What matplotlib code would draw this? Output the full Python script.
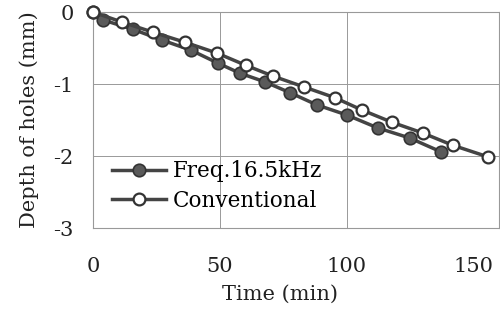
import matplotlib
matplotlib.use("Agg")
import matplotlib.pyplot as plt

# Freq.16.5kHz (filled markers)
freq_time = [0, 3.9, 15.7, 27.2, 38.6, 49.2, 57.9, 67.7, 77.6, 88.2, 100, 112.2, 124.8, 137]
freq_depth = [0, -0.11, -0.24, -0.39, -0.53, -0.71, -0.85, -0.97, -1.12, -1.29, -1.43, -1.61, -1.75, -1.94]

# Conventional (open markers)
conv_time = [0, 11.4, 23.6, 36.2, 48.8, 60.2, 70.9, 83.1, 95.3, 105.9, 117.7, 129.9, 141.7, 155.5]
conv_depth = [0, -0.14, -0.28, -0.42, -0.57, -0.74, -0.89, -1.04, -1.19, -1.36, -1.53, -1.68, -1.85, -2.01]

x_ticks = [0, 50, 100, 150]
y_ticks = [0, -1, -2, -3]
y_labels = ['0', '-1', '-2', '-3']

plt.rcParams['font.family'] = ['DejaVu Serif']

fig = plt.figure(figsize=(5, 3.2), dpi=100)
ax = fig.add_axes([0.186, 0.2875, 0.812, 0.675])

for v in [50, 100]:
    ax.axvline(v, color='#999999', lw=0.7, zorder=0)
for v in [-1, -2]:
    ax.axhline(v, color='#999999', lw=0.7, zorder=0)

ax.plot(freq_time, freq_depth, '-o', color='#444444', lw=2.5,
        markersize=9, markerfacecolor='#5a5a5a', markeredgecolor='#333333',
        markeredgewidth=1.2, label='Freq.16.5kHz', clip_on=False, zorder=3)
ax.plot(conv_time, conv_depth, '-o', color='#444444', lw=2.5,
        markersize=8.5, markerfacecolor='white', markeredgecolor='#333333',
        markeredgewidth=1.6, label='Conventional', clip_on=False, zorder=4)

ax.set_xlim(0, 160)
ax.set_ylim(-3, 0)
ax.set_xticks(x_ticks)
ax.set_yticks(y_ticks)
ax.set_yticklabels(y_labels)
ax.tick_params(length=0, labelsize=15, colors='#222222')
ax.tick_params(axis='x', pad=21)
ax.tick_params(axis='y', pad=14)
for s in ax.spines.values():
    s.set_color('#999999')
    s.set_linewidth(0.8)

ax.set_xlabel('Time (min)', fontsize=15, color='#222222', labelpad=4)
ax.xaxis.set_label_coords(0.46, -0.265)
ax.set_ylabel('Depth of holes (mm)', fontsize=15, color='#222222', labelpad=10)

ax.legend(loc='lower left', bbox_to_anchor=(0.0, -0.015), frameon=False,
          fontsize=15.5, handlelength=2.5, handletextpad=0.3, labelspacing=0.35,
          borderaxespad=0.5)

fig.savefig('out.png', dpi=100)
